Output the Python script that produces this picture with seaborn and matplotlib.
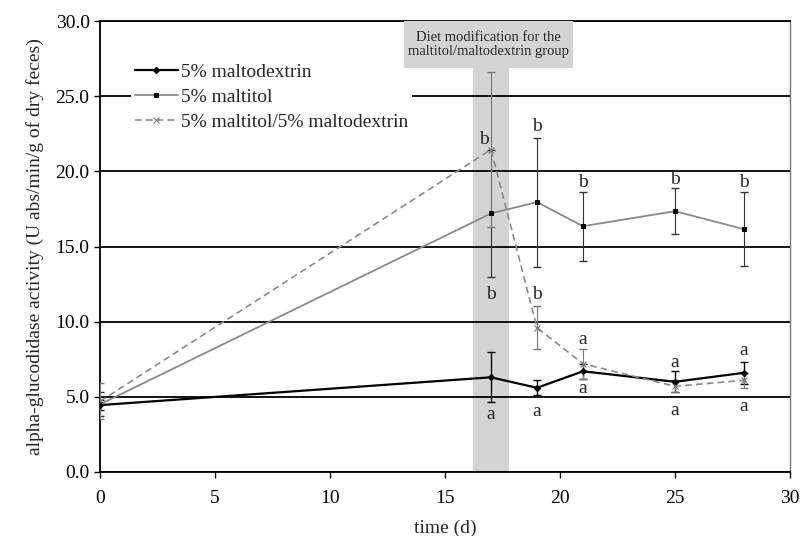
import pandas as pd
import matplotlib
matplotlib.use("Agg")
import matplotlib.pyplot as plt
import seaborn as sns

# data
days = [0, 17, 19, 21, 25, 28]
series_names = ["5% maltodextrin", "5% maltitol", "5% maltitol/5% maltodextrin"]
maltodextrin = [4.45, 6.3, 5.6, 6.7, 6.0, 6.6]
maltodextrin_err = [0.35, 1.65, 0.5, 0.5, 0.7, 0.75]
maltitol = [4.5, 17.2, 17.95, 16.35, 17.35, 16.15]
maltitol_err = [0.8, 4.2, 4.3, 2.3, 1.55, 2.45]
mixed = [4.7, 21.45, 9.6, 7.2, 5.7, 6.1]
mixed_err = [1.2, 5.15, 1.45, 1.0, 0.4, 0.5]

# significance letters (x, y, text)
letter_x = [16.7, 17.0, 17.0, 19.0, 19.0, 19.0, 21.0, 21.0, 21.0, 25.0, 25.0, 25.0, 28.0, 28.0, 28.0]
letter_y = [22.1, 11.8, 3.8, 23.0, 11.8, 4.0, 19.25, 8.8, 5.55, 19.45, 7.3, 4.1, 19.25, 8.05, 4.35]
letter_txt = ["b", "b", "a", "b", "b", "a", "b", "a", "a", "b", "a", "a", "b", "a", "a"]

df = pd.DataFrame({
    "time": days * 3,
    "value": maltodextrin + maltitol + mixed,
    "err": maltodextrin_err + maltitol_err + mixed_err,
    "group": [series_names[0]] * 6 + [series_names[1]] * 6 + [series_names[2]] * 6,
})

sns.set_theme(style="white")
plt.rcParams["font.family"] = ["Liberation Serif", "DejaVu Serif"]

fig = plt.figure(figsize=(8.02, 5.36), dpi=100)
ax = fig.add_axes([100 / 802, 1 - 472 / 536, 690 / 802, 451 / 536])

# shaded diet-change band and its label box
ax.axvspan(16.2, 17.8, ymin=0, ymax=26.9 / 30, color="#d4d4d4", zorder=0.2, lw=0)
ax.axvspan(13.2, 20.55, ymin=26.9 / 30, ymax=1, color="#d4d4d4", zorder=6.5, lw=0)
ax.text(16.9, 28.45, "Diet modification for the\nmaltitol/maltodextrin group",
        ha="center", va="center", fontsize=10.5, linespacing=1.05, zorder=7)

styles = {
    series_names[0]: dict(color="black", lw=1.6, ls="-", marker="D", ms=3.2, mfc="black", mec="black"),
    series_names[1]: dict(color="#8a8a8a", lw=1.3, ls="-", marker="s", ms=3.4, mfc="black", mec="black"),
    series_names[2]: dict(color="#8a8a8a", lw=1.2, ls=(0, (4, 2.5)), marker="x", ms=5, mfc="#777777", mec="#777777"),
}
err_colors = {series_names[0]: "black", series_names[1]: "#333333", series_names[2]: "#777777"}

for name in series_names:
    sub = df[df["group"] == name]
    st = styles[name]
    sns.lineplot(data=sub, x="time", y="value", ax=ax, label=name, color=st["color"],
                 linewidth=st["lw"], linestyle=st["ls"], marker=st["marker"], markersize=st["ms"],
                 markerfacecolor=st["mfc"], markeredgecolor=st["mec"], zorder=4)
    ax.errorbar(sub["time"], sub["value"], yerr=sub["err"], fmt="none",
                ecolor=err_colors[name], elinewidth=1.0 if name == series_names[0] else 0.8,
                capsize=3, capthick=1.0, zorder=3)

for x, y, t in zip(letter_x, letter_y, letter_txt):
    ax.text(x, y, t, ha="center", va="center", fontsize=14, zorder=5)

ax.set_xlim(0, 30)
ax.set_ylim(0, 30)
ax.set_xticks(range(0, 31, 5))
ax.set_yticks(range(0, 31, 5))
ax.set_yticklabels([f"{v:.1f}" for v in range(0, 31, 5)])
ax.grid(axis="y", color="black", lw=1.3)
ax.grid(axis="x", visible=False)
ax.tick_params(axis="both", labelsize=14, direction="out", length=4, width=1, colors="black",
               left=True, bottom=True)
ax.tick_params(axis="x", pad=9)
for side in ["left", "bottom", "top"]:
    ax.spines[side].set_color("black")
    ax.spines[side].set_linewidth(1.3)
ax.spines["right"].set_color("#777777")
ax.spines["right"].set_linewidth(1.0)

ax.set_xlabel("time (d)", fontsize=14, labelpad=9)
ax.set_ylabel("alpha-glucodidase activity (U abs/min/g of dry feces)", fontsize=14, labelpad=8)

leg = ax.legend(loc="upper left", bbox_to_anchor=(0.045, 0.915), fontsize=14, frameon=True,
                facecolor="white", edgecolor="none", framealpha=1, handlelength=2.2,
                handletextpad=0.15, labelspacing=0.38, borderpad=0.2, borderaxespad=0)
leg.set_zorder(6)

fig.savefig("out.png", dpi=100)
